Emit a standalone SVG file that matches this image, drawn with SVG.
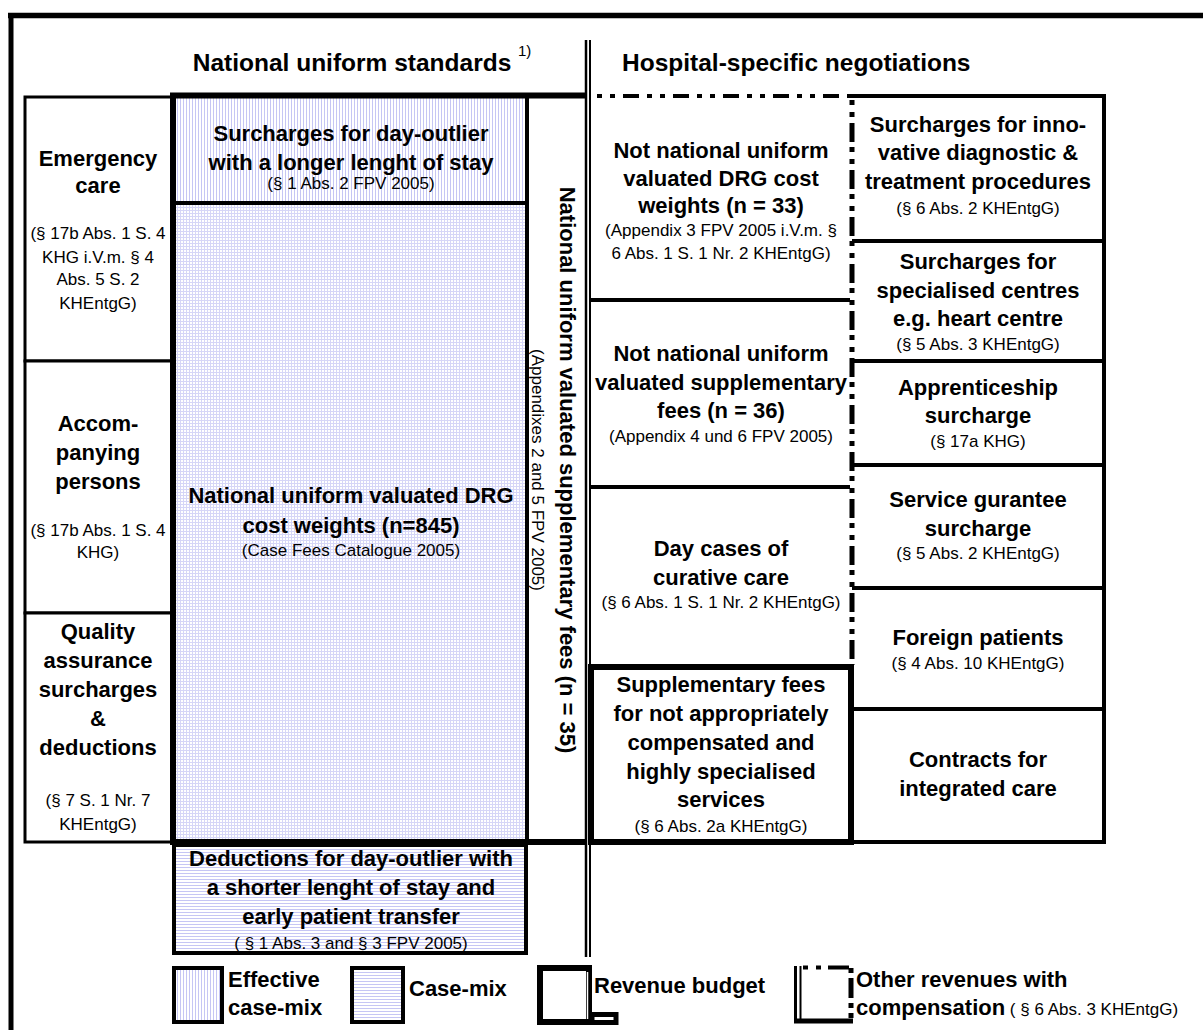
<svg xmlns="http://www.w3.org/2000/svg" width="1203" height="1030" viewBox="0 0 1203 1030">
<defs>
<pattern id="pv" width="3" height="3" patternUnits="userSpaceOnUse"><rect width="3" height="3" fill="#fff"/><rect width="1" height="3" fill="#c6c6f4"/></pattern>
<pattern id="ph" width="3" height="3" patternUnits="userSpaceOnUse"><rect width="3" height="3" fill="#fff"/><rect width="3" height="1" fill="#c6c6f4"/></pattern>
<pattern id="pg" width="3" height="3" patternUnits="userSpaceOnUse"><rect width="3" height="3" fill="#fff"/><rect width="1" height="3" fill="#d6d6f7"/><rect width="3" height="1" fill="#d6d6f7"/></pattern>
</defs>
<style>
text{font-family:"Liberation Sans",Arial,sans-serif;fill:#000}
.b{font-size:22px;font-weight:bold;text-anchor:middle}
.s{font-size:17px;font-weight:normal;text-anchor:middle}
.h{font-size:24.5px;font-weight:bold}
.bl{font-size:22px;font-weight:bold}
.sl{font-size:17px;font-weight:normal}
.ln{stroke:#000;stroke-width:4;fill:none}
.bx{stroke:#000;stroke-width:4}
.thin{stroke:#000;stroke-width:3}
.thick{stroke:#000;stroke-width:6;fill:none}
.dash{stroke:#000;stroke-width:4;fill:none;stroke-dasharray:5 8 5 8 16 8}
.vdash{stroke:#000;stroke-width:5;fill:none;stroke-dasharray:5 7 5 6 19 5}
</style>
<rect width="1203" height="1030" fill="#fff"/>

<g id="frame">
<path d="M8 15.5H1203" stroke="#000" stroke-width="5.5" fill="none"/>
<path d="M11 13V1030" stroke="#000" stroke-width="5" fill="none"/>
<path d="M586 40V957" stroke="#000" stroke-width="2.5" fill="none"/>
<path d="M590 40V957" stroke="#000" stroke-width="2" fill="none"/>
</g>

<g id="headers">
<text class="h" x="352" y="71" text-anchor="middle">National uniform standards</text>
<text class="sl" x="518" y="56" style="font-size:15px">1)</text>
<text class="h" x="622" y="71">Hospital-specific negotiations</text>
</g>

<g id="n-emergency">
<rect class="thin" x="25" y="97" width="147" height="264" fill="#fff"/>
<text class="b" x="98" y="166">Emergency</text>
<text class="b" x="98" y="193">care</text>
<text class="s" x="98" y="239">(§ 17b Abs. 1 S. 4</text>
<text class="s" x="98" y="263">KHG i.V.m. § 4</text>
<text class="s" x="98" y="285">Abs. 5 S. 2</text>
<text class="s" x="98" y="309">KHEntgG)</text>
</g>

<g id="n-accompanying">
<rect class="thin" x="25" y="361" width="147" height="252" fill="#fff"/>
<text class="b" x="98" y="431">Accom-</text>
<text class="b" x="98" y="460">panying</text>
<text class="b" x="98" y="489">persons</text>
<text class="s" x="98" y="536">(§ 17b Abs. 1 S. 4</text>
<text class="s" x="98" y="558">KHG)</text>
</g>

<g id="n-quality">
<rect class="thin" x="25" y="613" width="147" height="229" fill="#fff"/>
<text class="b" x="98" y="639">Quality</text>
<text class="b" x="98" y="668">assurance</text>
<text class="b" x="98" y="697">surcharges</text>
<text class="b" x="98" y="726">&amp;</text>
<text class="b" x="98" y="755">deductions</text>
<text class="s" x="98" y="806">(§ 7 S. 1 Nr. 7</text>
<text class="s" x="98" y="830">KHEntgG)</text>
</g>

<g id="n-surcharges-long">
<rect x="175" y="97" width="352" height="106" fill="url(#pv)"/>
<text class="b" x="351" y="141">Surcharges for day-outlier</text>
<text class="b" x="351" y="170">with a longer lenght of stay</text>
<text class="s" x="351" y="189">(§ 1 Abs. 2 FPV 2005)</text>
</g>

<g id="n-drg">
<rect x="175" y="203" width="352" height="639" fill="url(#pg)"/>
<text class="b" x="351" y="503">National uniform valuated DRG</text>
<text class="b" x="351" y="533">cost weights (n=845)</text>
<text class="s" x="351" y="556">(Case Fees Catalogue 2005)</text>
</g>

<g id="n-supp35">
<text class="b" transform="translate(560 470) rotate(90)">National uniform valuated supplementary fees (n = 35)</text>
<text class="s" transform="translate(532 470) rotate(90)">(Appendixes 2 and 5  FPV 2005)</text>
</g>

<g id="n-deductions">
<rect class="bx" x="174" y="845" width="352" height="108" fill="url(#ph)"/>
<text class="b" x="351" y="866">Deductions for day-outlier with</text>
<text class="b" x="351" y="895">a shorter lenght of stay and</text>
<text class="b" x="351" y="924">early patient transfer</text>
<text class="s" x="351" y="949">( § 1 Abs. 3 and § 3 FPV 2005)</text>
</g>

<g id="n-drg33">
<text class="b" x="721" y="158">Not national uniform</text>
<text class="b" x="721" y="186">valuated DRG cost</text>
<text class="b" x="721" y="213">weights (n = 33)</text>
<text class="s" x="721" y="236">(Appendix 3 FPV 2005 i.V.m.   §</text>
<text class="s" x="721" y="259">6 Abs. 1 S. 1 Nr. 2 KHEntgG)</text>
</g>

<g id="n-supp36">
<text class="b" x="721" y="361">Not national uniform</text>
<text class="b" x="721" y="390">valuated supplementary</text>
<text class="b" x="721" y="418">fees (n = 36)</text>
<text class="s" x="721" y="442">(Appendix 4 und 6 FPV 2005)</text>
</g>

<g id="n-daycases">
<text class="b" x="721" y="556">Day cases of</text>
<text class="b" x="721" y="585">curative care</text>
<text class="s" x="721" y="608">(§ 6 Abs. 1 S. 1 Nr. 2 KHEntgG)</text>
</g>

<g id="n-suppfees">
<rect class="thick" x="591" y="667" width="260" height="175"/>
<text class="b" x="721" y="692">Supplementary fees</text>
<text class="b" x="721" y="721">for not appropriately</text>
<text class="b" x="721" y="750">compensated and</text>
<text class="b" x="721" y="779">highly specialised</text>
<text class="b" x="721" y="807">services</text>
<text class="s" x="721" y="832">(§ 6 Abs. 2a KHEntgG)</text>
</g>

<g id="n-innovative">
<text class="b" x="978" y="132">Surcharges for inno-</text>
<text class="b" x="978" y="160">vative diagnostic &amp;</text>
<text class="b" x="978" y="189">treatment procedures</text>
<text class="s" x="978" y="214">(§ 6 Abs. 2 KHEntgG)</text>
</g>

<g id="n-centres">
<text class="b" x="978" y="269">Surcharges for</text>
<text class="b" x="978" y="298">specialised centres</text>
<text class="b" x="978" y="326">e.g. heart centre</text>
<text class="s" x="978" y="350">(§ 5 Abs. 3 KHEntgG)</text>
</g>

<g id="n-apprenticeship">
<text class="b" x="978" y="395">Apprenticeship</text>
<text class="b" x="978" y="423">surcharge</text>
<text class="s" x="978" y="447">(§ 17a KHG)</text>
</g>

<g id="n-service">
<text class="b" x="978" y="507">Service gurantee</text>
<text class="b" x="978" y="536">surcharge</text>
<text class="s" x="978" y="559">(§ 5 Abs. 2 KHEntgG)</text>
</g>

<g id="n-foreign">
<text class="b" x="978" y="645">Foreign patients</text>
<text class="s" x="978" y="669">(§ 4 Abs. 10 KHEntgG)</text>
</g>

<g id="n-contracts">
<text class="b" x="978" y="767">Contracts for</text>
<text class="b" x="978" y="796">integrated care</text>
</g>

<g id="connectors">
<path class="ln" d="M173 203H527"/>
<path class="ln" d="M527 96V842"/>
<path class="thick" d="M586 95.5H173V842H586"/>
<path class="ln" d="M590 300H850"/>
<path class="ln" d="M590 487H850"/>
<path class="dash" d="M597 96H850"/>
<path class="vdash" d="M852 100V665"/>
<path class="ln" d="M850 96H1106"/>
<path class="ln" d="M1104 94V844"/>
<path class="ln" d="M850 842H1106"/>
<path class="ln" d="M852 241H1104"/>
<path class="ln" d="M852 361H1104"/>
<path class="ln" d="M852 465H1104"/>
<path class="ln" d="M852 588H1104"/>
<path class="ln" d="M852 709H1104"/>
</g>

<g id="legend-effective">
<rect class="bx" x="174" y="968" width="48" height="54" fill="url(#pv)"/>
<text class="bl" x="228" y="987">Effective</text>
<text class="bl" x="228" y="1015">case-mix</text>
</g>

<g id="legend-casemix">
<rect class="bx" x="352" y="968" width="51" height="54" fill="url(#ph)"/>
<text class="bl" x="409" y="996">Case-mix</text>
</g>

<g id="legend-revenue">
<rect class="thick" x="540" y="968" width="49" height="54" style="fill:#fff"/>
<path d="M587.5 972V1019" stroke="#fff" stroke-width="1.5"/>
<rect x="592" y="1014.5" width="24" height="8" fill="none" stroke="#000" stroke-width="5"/>
<text class="bl" x="594" y="993">Revenue budget</text>
</g>

<g id="legend-other">
<path d="M795.5 966V1022" stroke="#000" stroke-width="3" fill="none"/>
<path d="M800.5 966V1020" stroke="#000" stroke-width="2" fill="none"/>
<path d="M803 967.5H849" stroke="#000" stroke-width="4" fill="none" stroke-dasharray="5 8 5 7 21"/>
<path d="M851 968V1019" stroke="#000" stroke-width="5" fill="none" stroke-dasharray="5 5 20 5 5 5"/>
<path d="M794 1021H853" stroke="#000" stroke-width="5" fill="none"/>
<text class="bl" x="856" y="987">Other revenues with</text>
<text class="bl" x="856" y="1015">compensation<tspan class="sl"> ( § 6 Abs. 3 KHEntgG)</tspan></text>
</g>
</svg>
